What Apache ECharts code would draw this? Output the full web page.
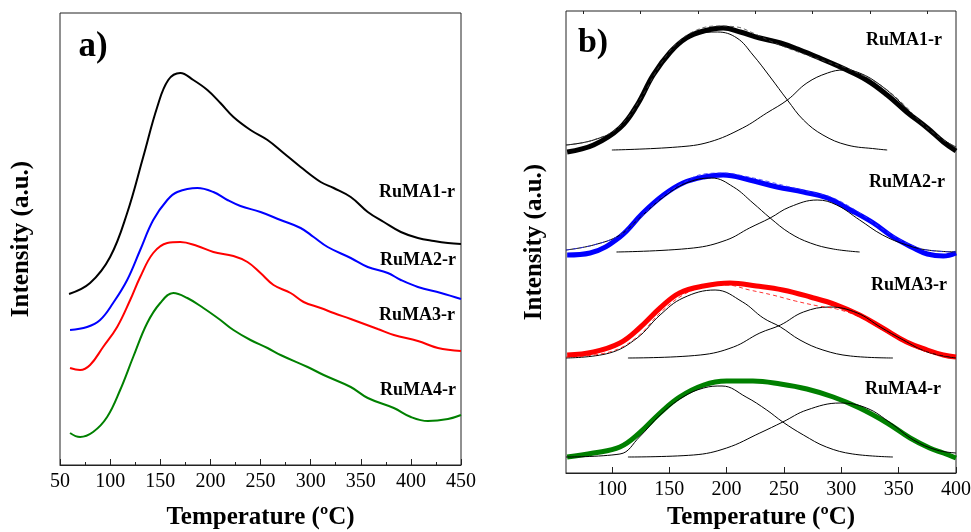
<!DOCTYPE html>
<html>
<head>
<meta charset="utf-8">
<script src="https://cdn.jsdelivr.net/npm/echarts@6/dist/echarts.min.js"></script>
<style>
  html, body { margin: 0; padding: 0; background: #fff; }
  #chart { width: 971px; height: 532px; }
</style>
</head>
<body>
<div id="chart"></div>
<script>
// panel a) raw TPR curves, [temperature, intensity (a.u.)]
const rawA1 = [[59,171],[80,182],[100,208],[117,252],[133,308],[147,358],[158,385],[170,392],[183,385],[197,375],[210,362],[223,348],[240,335],[257,325],[273,312],[290,298],[310,283],[323,277],[340,268],[357,253],[373,243],[390,233],[407,227],[423,224],[437,222],[450,221]];
const rawA2 = [[60,135],[77,138],[90,145],[103,162],[117,185],[130,215],[143,245],[157,265],[167,273],[187,277],[203,273],[217,265],[230,259],[250,253],[270,245],[290,237],[303,228],[317,218],[340,207],[357,198],[377,192],[390,185],[407,178],[430,172],[450,166]];
const rawA3 = [[60,97],[70,95],[80,100],[93,118],[107,138],[120,165],[130,188],[143,212],[157,222],[170,223],[187,219],[203,213],[223,209],[237,203],[250,192],[263,180],[280,172],[293,163],[310,157],[323,152],[340,146],[367,136],[383,130],[407,124],[427,117],[450,114]];
const rawA4 = [[60,32],[70,28],[83,33],[97,48],[110,75],[123,108],[137,142],[150,162],[163,172],[177,167],[193,157],[210,145],[223,135],[240,125],[257,117],[270,110],[297,98],[313,90],[340,78],[357,67],[383,57],[400,48],[417,44],[437,46],[450,50]];

// panel b) deconvoluted profiles (stacked with offsets)
const expB1 = [[61,321],[84,328],[107,345],[122,368],[136,398],[151,421],[165,435],[180,442],[197,445],[212,441],[229,435],[247,430],[264,423],[281,415],[301,405],[322,393],[340,378],[357,361],[375,345],[389,331],[400,322]];
const peak1B1 = [[60,328],[84,333],[107,346],[127,378],[142,408],[157,428],[174,439],[192,441],[209,435],[223,418],[238,396],[253,373],[267,353],[284,338],[305,328],[331,324],[340,323]];
const peak2B1 = [[100,323],[157,326],[185,331],[214,345],[235,360],[253,373],[270,390],[288,400],[302,403],[316,400],[334,388],[354,368],[371,348],[389,333],[400,326]];
const fitB1 = [[60,328],[84,333],[107,347],[127,378],[142,408],[157,430],[174,443],[192,447],[209,446],[223,440],[238,432],[253,425],[270,418],[288,411],[302,406],[316,399],[334,388],[354,369],[371,349],[389,333],[400,326]];

const expB2 = [[61,218],[81,220],[107,236],[127,260],[145,278],[162,290],[180,296],[197,298],[220,293],[244,286],[267,281],[288,275],[308,263],[328,250],[345,236],[363,225],[375,219],[389,217],[400,220]];
const peak1B2 = [[60,223],[84,228],[107,238],[127,258],[145,276],[165,290],[187,295],[206,286],[223,270],[238,255],[255,240],[273,230],[293,224],[316,221]];
const peak2B2 = [[104,221],[171,225],[200,233],[220,245],[238,255],[255,266],[279,273],[296,268],[316,253],[336,238],[357,228],[375,223],[400,221]];
const fitB2 = [[60,223],[84,228],[107,238],[127,258],[145,277],[165,292],[180,299],[197,300],[215,297],[238,291],[255,286],[273,281],[293,275],[316,260],[336,244],[357,230],[375,223],[400,221]];

const expB3 = [[61,118],[84,121],[107,130],[124,145],[142,165],[159,180],[180,187],[203,190],[226,187],[249,183],[273,176],[296,168],[316,158],[336,145],[357,131],[375,123],[389,118],[400,116]];
const peak1B3 = [[60,115],[98,120],[122,135],[142,158],[162,175],[190,183],[214,171],[232,155],[247,146],[264,133],[284,123],[308,117],[345,115]];
const peak2B3 = [[114,115],[177,118],[206,126],[229,140],[247,148],[267,161],[290,166],[314,160],[334,146],[354,133],[375,121],[400,115]];
const fitB3 = [[60,116],[98,121],[122,136],[142,160],[162,178],[180,186],[200,188],[220,183],[240,178],[260,172],[280,167],[296,164],[316,156],[336,143],[354,131],[375,121],[400,116]];

const expB4 = [[61,16],[84,20],[107,26],[124,40],[142,60],[159,76],[180,88],[200,92],[223,92],[247,89],[270,84],[293,76],[316,65],[340,50],[360,35],[377,25],[389,20],[400,15]];
const peak1B4 = [[60,16],[107,19],[124,36],[142,58],[162,76],[180,85],[196,87],[217,76],[235,63],[249,51],[267,38],[287,26],[310,19],[345,16]];
const peak2B4 = [[114,16],[171,18],[200,25],[229,40],[249,51],[270,63],[299,70],[322,65],[343,50],[363,33],[383,23],[400,20]];

const samples = ['RuMA1-r', 'RuMA2-r', 'RuMA3-r', 'RuMA4-r'];
const colors = ['#000000', '#0000ff', '#ff0000', '#008000'];
const ticksB = [100, 150, 200, 250, 300, 350, 400];
const minorTicksB = [75, 125, 175, 225, 275, 325, 375];

const serif = '"Liberation Serif", "Times New Roman", serif';
const myChart = echarts.init(document.getElementById('chart'));

const labelStyle = { fontFamily: serif, fontSize: 20, color: '#000' };
const titleStyle = { fontFamily: serif, fontSize: 25, fontWeight: 'bold', color: '#000' };

const line = (data, x, y, color, width, extra) => Object.assign({
  type: 'line', data: data, xAxisIndex: x, yAxisIndex: y,
  smooth: 0.4, showSymbol: false, symbol: 'none', clip: false,
  lineStyle: { color: color, width: width }
}, extra || {});

const dashed = (data, color) => line(data, 1, 1, color, 1, {
  lineStyle: { color: color, width: 1, type: [4, 3], opacity: 0.8 }
});

const txt = (text, x, y, size) => ({
  type: 'text', x: x, y: y, z: 100,
  style: { text: text, font: 'bold ' + size + 'px ' + serif, fill: '#000', align: 'center', verticalAlign: 'middle' }
});

const options = {
  animation: false,
  backgroundColor: '#fff',
  grid: [
    { left: 60, top: 13, width: 401, height: 452, outerBoundsMode: 'none', show: true, borderColor: '#222', borderWidth: 1, backgroundColor: 'transparent' },
    { left: 566, top: 11, width: 390, height: 462, outerBoundsMode: 'none', show: true, borderColor: '#222', borderWidth: 1, backgroundColor: 'transparent' }
  ],
  xAxis: [
    {
      gridIndex: 0, type: 'value', min: 50, max: 450, interval: 50,
      axisLine: { lineStyle: { color: '#222', width: 1 } },
      axisTick: { inside: true, length: 6, lineStyle: { color: '#222' } },
      minorTick: { show: true, splitNumber: 2, length: 3, lineStyle: { color: '#222' } },
      axisLabel: Object.assign({ margin: 7 }, labelStyle),
      splitLine: { show: false },
      name: 'Temperature (ºC)', nameLocation: 'middle', nameGap: 40, nameTextStyle: titleStyle
    },
    {
      gridIndex: 1, type: 'value', min: 60, max: 400,
      axisLine: { lineStyle: { color: '#222', width: 1 } },
      axisTick: { inside: true, length: 6, customValues: ticksB, lineStyle: { color: '#222' } },
      axisLabel: Object.assign({ margin: 7, customValues: ticksB }, labelStyle),
      splitLine: { show: false },
      name: 'Temperature (ºC)', nameLocation: 'middle', nameGap: 32, nameTextStyle: titleStyle
    },
    {
      gridIndex: 1, type: 'value', min: 60, max: 400,
      axisLine: { show: false },
      axisTick: { inside: true, length: 3, customValues: minorTicksB, lineStyle: { color: '#222' } },
      axisLabel: { show: false },
      splitLine: { show: false }
    }
  ],
  yAxis: [
    {
      gridIndex: 0, type: 'value', min: 0, max: 452,
      axisLine: { show: false }, axisTick: { show: false }, axisLabel: { show: false }, splitLine: { show: false },
      name: 'Intensity (a.u.)', nameLocation: 'middle', nameGap: 26, nameTextStyle: titleStyle
    },
    {
      gridIndex: 1, type: 'value', min: 0, max: 462,
      axisLine: { show: false }, axisTick: { show: false }, axisLabel: { show: false }, splitLine: { show: false },
      name: 'Intensity (a.u.)', nameLocation: 'middle', nameGap: 19, nameTextStyle: titleStyle
    }
  ],
  series: [
    line(rawA1, 0, 0, colors[0], 2),
    line(rawA2, 0, 0, colors[1], 2),
    line(rawA3, 0, 0, colors[2], 2),
    line(rawA4, 0, 0, colors[3], 2),

    line(expB1, 1, 1, colors[0], 5),
    line(expB2, 1, 1, colors[1], 5),
    line(expB3, 1, 1, colors[2], 5),
    line(expB4, 1, 1, colors[3], 5),

    line(peak1B1, 1, 1, '#000', 1), line(peak2B1, 1, 1, '#000', 1),
    line(peak1B2, 1, 1, '#000', 1), line(peak2B2, 1, 1, '#000', 1),
    line(peak1B3, 1, 1, '#000', 1), line(peak2B3, 1, 1, '#000', 1),
    line(peak1B4, 1, 1, '#000', 1), line(peak2B4, 1, 1, '#000', 1),

    dashed(fitB1, '#444'),
    dashed(fitB2, '#3333ff'),
    dashed(fitB3, '#ff0000')
  ],
  graphic: [
    txt('a)', 93, 47, 35),
    txt('b)', 593, 43, 34),
    txt(samples[0], 417, 192, 18),
    txt(samples[1], 418, 260, 18),
    txt(samples[2], 417, 315, 18),
    txt(samples[3], 418, 390, 18),
    txt(samples[0], 904, 40, 18),
    txt(samples[1], 907, 182, 18),
    txt(samples[2], 909, 285, 18),
    txt(samples[3], 903, 389, 18)
  ]
};

myChart.setOption(options);
</script>
</body>
</html>
